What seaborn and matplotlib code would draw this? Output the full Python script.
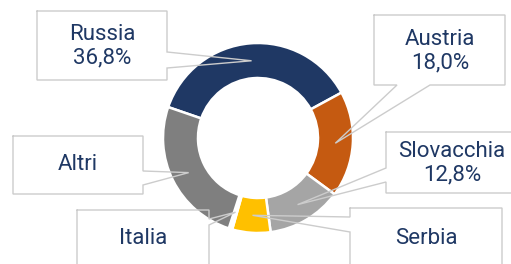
import numpy as np
import matplotlib
matplotlib.use("Agg")
import matplotlib.pyplot as plt
import seaborn as sns

sns.set_theme(style="white")
plt.rcParams['font.family'] = ['Roboto', 'DejaVu Sans']

# export shares by destination (%)
countries = ["Russia", "Austria", "Slovacchia", "Serbia", "Italia", "Altri"]
shares = [36.8, 18.0, 12.8, 6.5, 0.6, 25.3]
show_pct = [True, True, True, False, False, False]
colors = ["#1F3864", "#C55A11", "#A5A5A5", "#FFC000", "#FFFFFF", "#7F7F7F"]

# callout boxes, in pixel coords (y down): box, side with the wedge, wedge base, text centre
callouts = {
    "Russia":     dict(box=(37, 11, 167, 80),   side="right",  base=(52, 68),   txt=(102, 46)),
    "Austria":    dict(box=(374, 15, 505, 85),  side="bottom", base=(397, 430), txt=(440, 51)),
    "Slovacchia": dict(box=(386, 132, 519, 193), side="left",  base=(168, 182), txt=(452, 163)),
    "Serbia":     dict(box=(350, 208, 502, 290), side="left",  base=(217, 232), txt=(426, 238)),
    "Italia":     dict(box=(77, 210, 209, 290), side="right",  base=(219, 225), txt=(143, 239)),
    "Altri":      dict(box=(13, 136, 143, 194), side="right",  base=(171, 185), txt=(78, 165)),
}

W, H = 511, 264
text_col = "#1F3864"
line_col = "#CCCCCC"


def fy(y):
    return H - y


def callout_path(box, side, base, tip):
    x0, y0, x1, y1 = box
    b1, b2 = base
    tx, ty = tip
    pts = [(x0, y0), (x1, y0)]
    if side == "right":
        pts += [(x1, b1), (tx, ty), (x1, b2)]
    pts += [(x1, y1)]
    if side == "bottom":
        pts += [(b2, y1), (tx, ty), (b1, y1)]
    pts += [(x0, y1)]
    if side == "left":
        pts += [(x0, b2), (tx, ty), (x0, b1)]
    pts += [(x0, y0)]
    return pts


fig = plt.figure(figsize=(W / 100, H / 100), dpi=100)
ax = fig.add_axes([0, 0, 1, 1])

wedges, _ = ax.pie(shares, colors=colors, startangle=161, counterclock=False,
                   center=(258, fy(138)), radius=95,
                   wedgeprops=dict(width=35, edgecolor="white", linewidth=1.8))

for i, name in enumerate(countries):
    w = wedges[i]
    mid = np.deg2rad((w.theta1 + w.theta2) / 2)
    r = w.r - w.width / 2
    tip = (w.center[0] + r * np.cos(mid), fy(w.center[1] + r * np.sin(mid)))
    c = callouts[name]
    pts = callout_path(c["box"], c["side"], c["base"], tip)
    xs = [p[0] for p in pts]
    ys = [fy(p[1]) for p in pts]
    ax.plot(xs, ys, color=line_col, lw=1.0, zorder=3, solid_joinstyle="miter")
    label = name
    if show_pct[i]:
        label += "\n" + f"{shares[i]:.1f}".replace(".", ",") + "%"
    ax.text(c["txt"][0], fy(c["txt"][1]), label, ha="center", va="center",
            fontsize=16, color=text_col, linespacing=1.15, zorder=4)

ax.set_xlim(0, W)
ax.set_ylim(0, H)
ax.set_aspect("equal")
ax.axis("off")

fig.savefig("out.png", dpi=100, facecolor="white")
